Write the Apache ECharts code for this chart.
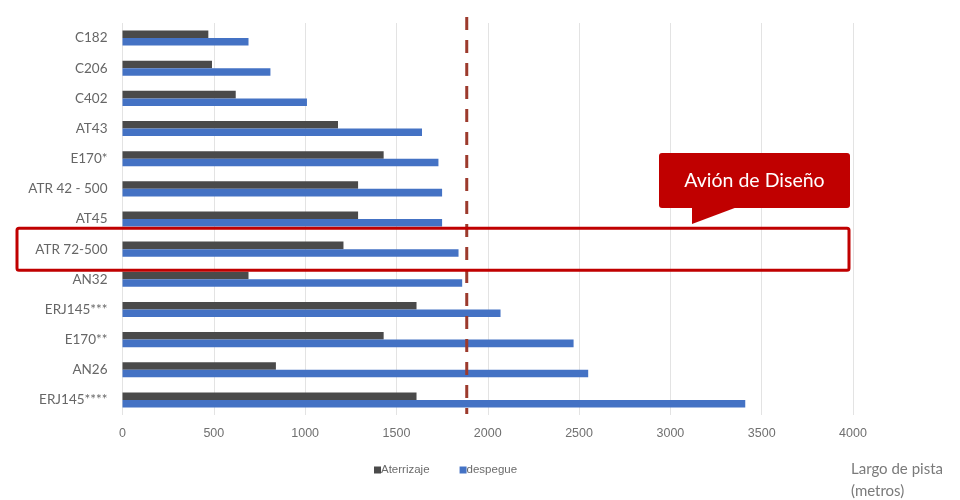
<!DOCTYPE html>
<html>
<head>
<meta charset="utf-8">
<script src="https://cdn.jsdelivr.net/npm/echarts@6/dist/echarts.min.js"></script>
<style>html,body{margin:0;padding:0;background:#fff}#c{width:960px;height:500px}</style>
</head>
<body>
<div id="c"></div>
<script>
const categories = ['C182','C206','C402','AT43','E170*','ATR 42 - 500','AT45','ATR 72-500','AN32','ERJ145***','E170**','AN26','ERJ145****'];
const aterrizaje = [470, 490, 620, 1180, 1430, 1290, 1290, 1210, 690, 1610, 1430, 840, 1610];
const despegue = [690, 810, 1010, 1640, 1730, 1750, 1750, 1840, 1860, 2070, 2470, 2550, 3410];
const xTicks = [0, 500, 1000, 1500, 2000, 2500, 3000, 3500, 4000];
const disenoValue = 1885;
const disenoCategory = 'ATR 72-500';
const calloutText = 'Avión de Diseño';
const axisTitle = 'Largo de pista\n(metros)';

const chart = echarts.init(document.getElementById('c'), null, {renderer: 'canvas'});
const sans = "'Liberation Sans', Arial, sans-serif";
chart.setOption({
  animation: false,
  backgroundColor: '#fff',
  grid: {left: 122.5, right: 107, top: 23, bottom: 85, containLabel: false},
  xAxis: {
    type: 'value', min: xTicks[0], max: xTicks[xTicks.length - 1], interval: 500,
    axisLine: {show: false}, axisTick: {show: false},
    splitLine: {lineStyle: {color: '#e3e3e3', width: 1}},
    axisLabel: {color: '#707070', fontSize: 12.5, fontFamily: sans, margin: 12,
      formatter: function (v) { return String(v); }}
  },
  yAxis: {
    type: 'category', data: categories, inverse: true,
    axisLine: {show: false}, axisTick: {show: false},
    axisLabel: {color: '#666', fontSize: 13.5, fontFamily: 'Lato, sans-serif', margin: 15}
  },
  legend: {
    left: 369, top: 459, itemWidth: 7, itemHeight: 7, itemGap: 30, icon: 'rect',
    textStyle: {color: '#6b6b6b', fontSize: 11.5, fontFamily: sans, padding: [0, 0, 0, -5]},
    data: ['Aterrizaje', 'despegue']
  },
  title: {
    text: axisTitle, left: 846, top: 453,
    textStyle: {color: '#7a7a7a', fontSize: 15, fontWeight: 'normal', fontFamily: 'Lato, sans-serif', lineHeight: 22}
  },
  series: [
    {name: 'Aterrizaje', type: 'bar', data: aterrizaje, itemStyle: {color: '#4a4a4a'}, barGap: '0%', barCategoryGap: '50%'},
    {name: 'despegue', type: 'bar', data: despegue, itemStyle: {color: '#4472C4'}, barGap: '0%', barCategoryGap: '50%'}
  ]
});

const lx = chart.convertToPixel({xAxisIndex: 0}, disenoValue);
const cy = chart.convertToPixel({yAxisIndex: 0}, disenoCategory);
chart.setOption({
  graphic: [
    {type: 'line', shape: {x1: lx, y1: 17, x2: lx, y2: 414}, z: 10,
     style: {stroke: '#9c3a2c', lineWidth: 3, lineDash: [13, 10]}},
    {type: 'rect', shape: {x: 17, y: cy - 21, width: 832, height: 42, r: 2}, z: 11,
     style: {fill: 'none', stroke: '#c00000', lineWidth: 3}},
    {type: 'rect', shape: {x: 659, y: 153, width: 191, height: 55, r: 3}, z: 12,
     style: {fill: '#c00000'}},
    {type: 'polygon', shape: {points: [[692, 206], [740, 206], [692, 224]]}, z: 12,
     style: {fill: '#c00000'}},
    {type: 'text', x: 754.5, y: 181, z: 13,
     style: {text: calloutText, fill: '#fff', fontSize: 19.5, fontFamily: 'Lato, sans-serif', align: 'center', verticalAlign: 'middle'}}
  ]
});
</script>
</body>
</html>
